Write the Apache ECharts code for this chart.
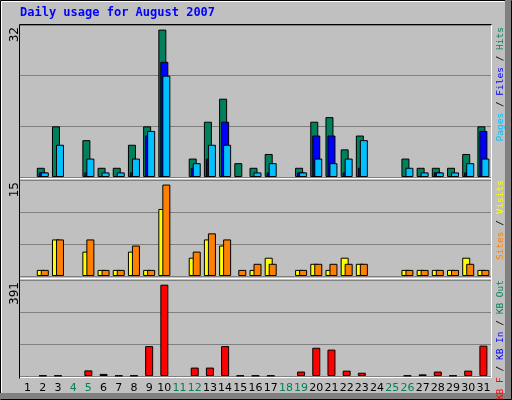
<!DOCTYPE html>
<html>
<head>
<meta charset="utf-8">
<script src="https://cdn.jsdelivr.net/npm/echarts@6/dist/echarts.min.js"></script>
<style>html,body{margin:0;padding:0;background:#c0c0c0}#c{width:512px;height:400px}</style>
</head>
<body>
<div id="c"></div>
<script>
// data
var days = [];
for (var d = 1; d <= 31; d++) days.push(String(d));
var weekend = ["4", "5", "11", "12", "18", "19", "25", "26"];
var hits   = [0,2,11,0,8,2,2,7,11,32,0,4,12,17,3,2,5,0,2,12,13,6,9,0,0,4,2,2,2,5,11];
var files  = [0,1,0,0,1,0,0,1,9,25,0,2,4,12,0,0,1,0,1,9,9,1,2,0,0,0,0,1,0,1,10];
var pages  = [0,1,7,0,4,1,1,4,10,22,0,3,7,7,0,1,3,0,1,4,3,4,8,0,0,2,1,1,1,3,4];
var visits = [0,1,6,0,4,1,1,4,1,11,0,3,6,5,0,1,3,0,1,2,1,3,2,0,0,1,1,1,1,3,1];
var sites  = [0,1,6,0,6,1,1,5,1,15,0,4,7,6,1,2,2,0,1,2,2,2,2,0,0,1,1,1,1,2,1];
var kbF    = [0,2,2,0,24,9,2,2,128,391,0,36,36,128,2,2,2,0,19,121,113,23,14,0,0,2,7,19,2,23,130];
var maxLabels = ["32", "15", "391"];

var chart = echarts.init(document.getElementById('c'));
var L = 20, R = 21;
var grids = [
    { left: L, right: R, top: 25, height: 152 },
    { left: L, right: R, top: 180, height: 96 },
    { left: L, right: R, top: 280, height: 96 }
];
function xAx(i) {
    return {
        type: 'category', gridIndex: i, data: days,
        axisLine: { show: false }, axisTick: { show: false },
        axisLabel: {
            show: i === 2, interval: 0, margin: 7, fontSize: 11, fontFamily: 'DejaVu Sans',
            color: function (v) { return weekend.indexOf(v) >= 0 ? '#00805c' : '#000'; }
        }
    };
}
function yAx(i, max) {
    return {
        type: 'value', gridIndex: i, min: 0, max: max, interval: max / 3,
        axisLabel: { show: false }, axisLine: { show: false }, axisTick: { show: false },
        splitLine: { lineStyle: { color: '#808080', width: 1 } }
    };
}
function bar(name, data, color, i, gap) {
    return {
        name: name, type: 'bar', xAxisIndex: i, yAxisIndex: i,
        data: data.map(function (v) { return v === 0 ? '-' : v; }),
        barWidth: 8, barGap: gap, animation: false,
        itemStyle: { color: color, borderColor: '#000', borderWidth: 1 }
    };
}
var F = '9.5px "DejaVu Sans Mono"';
function vtext(x, y, text) {
    return {
        type: 'text', x: x, y: y, rotation: Math.PI / 2,
        style: {
            text: text, rich: rich, textAlign: 'right', textVerticalAlign: 'top',
            font: F, fill: '#000'
        }
    };
}
var rich = {
    p: { fill: '#00c0ff', font: F },
    f: { fill: '#0000ff', font: F },
    h: { fill: '#00805c', font: F },
    s: { fill: '#ff8000', font: F },
    v: { fill: '#ffff00', font: F },
    k: { fill: '#ff0000', font: F },
    n: { fill: '#000', font: F },
    m: { fill: '#000', font: '12px "DejaVu Sans"' }
};
function line(x1, y1, x2, y2, c) {
    return { type: 'line', silent: true, shape: { x1: x1, y1: y1, x2: x2, y2: y2 }, style: { stroke: c, lineWidth: 1 } };
}

chart.setOption({
    backgroundColor: '#c0c0c0',
    animation: false,
    grid: grids,
    xAxis: [xAx(0), xAx(1), xAx(2)],
    yAxis: [yAx(0, 33), yAx(1, 15.75), yAx(2, 411)],
    series: [
        bar('Hits', hits, '#00805c', 0, '-75%'),
        bar('Files', files, '#0000ff', 0, '-75%'),
        bar('Pages', pages, '#00c0ff', 0, '-75%'),
        bar('Visits', visits, '#ffff00', 1, '-50%'),
        bar('Sites', sites, '#ff8000', 1, '-50%'),
        bar('KB F', kbF, '#ff0000', 2, '0%')
    ],
    graphic: [
        line(0.5, 0.5, 511.5, 0.5, '#000'),
        line(0.5, 0.5, 0.5, 399.5, '#000'),
        line(1.5, 1.5, 504.5, 1.5, '#fff'),
        line(1.5, 1.5, 1.5, 392.5, '#fff'),
        { type: 'rect', shape: { x: 505, y: 0, width: 7, height: 400 }, style: { fill: '#808080' } },
        { type: 'rect', shape: { x: 0, y: 393, width: 512, height: 7 }, style: { fill: '#808080' } },
        line(0.5, 399.5, 511.5, 399.5, '#000'),
        line(511.5, 0.5, 511.5, 399.5, '#000'),
        line(19.5, 24.5, 491.5, 24.5, '#000'),
        line(19.5, 24.5, 19.5, 378.5, '#000'),
        line(20, 178.5, 491, 178.5, '#fff'),
        line(20, 278.5, 491, 278.5, '#fff'),
        line(20, 377.5, 491, 377.5, '#fff'),
        line(491.5, 25, 491.5, 378, '#fff'),
        {
            type: 'text', x: 20, y: 7,
            style: { text: 'Daily usage for August 2007', font: 'bold 12px "DejaVu Sans Mono"', fill: '#0000ff' }
        },
        vtext(9, 27, '{m|' + maxLabels[0] + '}'),
        vtext(9, 182, '{m|' + maxLabels[1] + '}'),
        vtext(9, 282, '{m|' + maxLabels[2] + '}'),
        vtext(496, 27, '{p|Pages}{n| / }{f|Files}{n| / }{h|Hits}'),
        vtext(496, 180, '{s|Sites}{n| / }{v|Visits}'),
        vtext(496, 280, '{k|KB F}{n| / }{f|KB In}{n| / }{h|KB Out}')
    ]
});
</script>
</body>
</html>
